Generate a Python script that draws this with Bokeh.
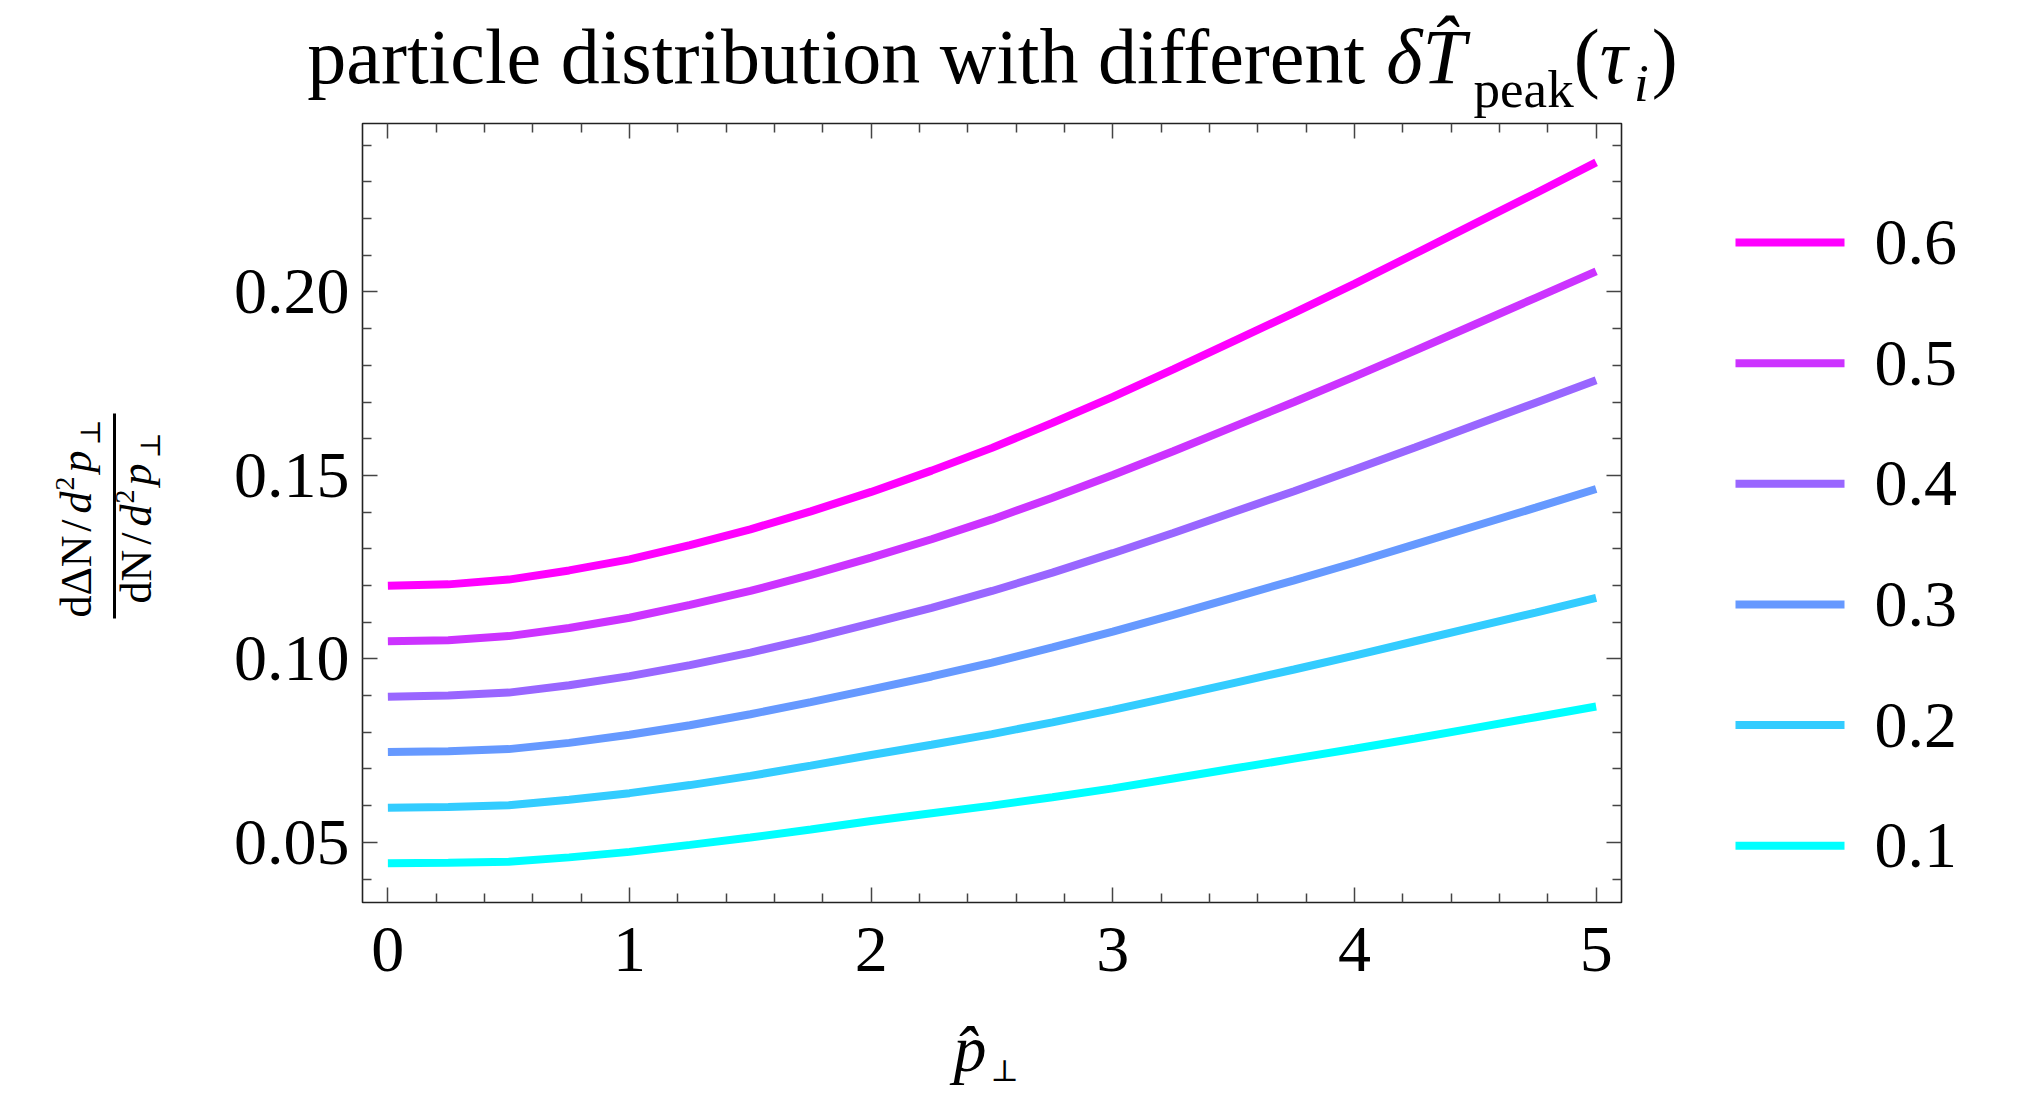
import math
from bokeh.plotting import figure
from bokeh.layouts import column, row
from bokeh.models import Range1d, FixedTicker, LinearAxis
from bokeh.core.properties import value
from bokeh.embed import file_html
from bokeh.resources import INLINE

# ---------------- data ----------------
p_hat = [0.0, 0.25, 0.5, 0.75, 1.0, 1.25, 1.5, 1.75, 2.0, 2.25, 2.5,
         2.75, 3.0, 3.25, 3.5, 3.75, 4.0, 4.25, 4.5, 4.75, 5.0]

series_labels = ["0.6", "0.5", "0.4", "0.3", "0.2", "0.1"]
y_06 = [0.1199, 0.1203, 0.1216, 0.1241, 0.1271, 0.1310, 0.1353, 0.1402, 0.1455, 0.1513, 0.1575,
        0.1643, 0.1714, 0.1789, 0.1866, 0.1943, 0.2022, 0.2104, 0.2187, 0.2269, 0.2353]
y_05 = [0.1048, 0.1051, 0.1062, 0.1084, 0.1112, 0.1147, 0.1185, 0.1229, 0.1276, 0.1326, 0.1380,
        0.1439, 0.1501, 0.1566, 0.1633, 0.1700, 0.1769, 0.1840, 0.1912, 0.1984, 0.2056]
y_04 = [0.0897, 0.0900, 0.0908, 0.0928, 0.0953, 0.0983, 0.1017, 0.1055, 0.1097, 0.1139, 0.1185,
        0.1235, 0.1288, 0.1343, 0.1400, 0.1457, 0.1516, 0.1576, 0.1637, 0.1698, 0.1759]
y_03 = [0.0746, 0.0748, 0.0754, 0.0771, 0.0793, 0.0819, 0.0849, 0.0882, 0.0917, 0.0952, 0.0990,
        0.1031, 0.1074, 0.1120, 0.1167, 0.1214, 0.1262, 0.1312, 0.1362, 0.1412, 0.1463]
y_02 = [0.0594, 0.0596, 0.0601, 0.0616, 0.0634, 0.0656, 0.0681, 0.0709, 0.0738, 0.0766, 0.0795,
        0.0827, 0.0861, 0.0897, 0.0934, 0.0971, 0.1009, 0.1048, 0.1087, 0.1126, 0.1166]
y_01 = [0.0443, 0.0444, 0.0447, 0.0459, 0.0474, 0.0493, 0.0513, 0.0535, 0.0558, 0.0579, 0.0600,
        0.0623, 0.0647, 0.0674, 0.0701, 0.0728, 0.0755, 0.0783, 0.0812, 0.0841, 0.0870]
series_values = [y_06, y_05, y_04, y_03, y_02, y_01]
series_colors = ["#FF00FF", "#CC33FF", "#9966FF", "#6699FF", "#33CCFF", "#00FFFF"]

x_ticks = [0, 1, 2, 3, 4, 5]
x_tick_labels = ["0", "1", "2", "3", "4", "5"]
x_minor = [0.2, 0.4, 0.6, 0.8, 1.2, 1.4, 1.6, 1.8, 2.2, 2.4, 2.6, 2.8,
           3.2, 3.4, 3.6, 3.8, 4.2, 4.4, 4.6, 4.8]
y_ticks = [0.05, 0.10, 0.15, 0.20]
y_tick_labels = ["0.05", "0.10", "0.15", "0.20"]
y_minor = [0.04, 0.06, 0.07, 0.08, 0.09, 0.11, 0.12, 0.13, 0.14,
           0.16, 0.17, 0.18, 0.19, 0.21, 0.22, 0.23, 0.24]

# ---------------- layout (canvas pixel coordinates) ----------------
W, H = 2007, 1087
TOP_H = 120             # title strip
MID_H = 890             # plot row
BOT_H = H - TOP_H - MID_H
LEFT_W = 208            # y-label strip
MAIN_W = 1432           # main figure
LEG_W = W - LEFT_W - MAIN_W
B_TOP, B_BOT = 3, 108   # vertical borders of every figure in the plot row
FR_TOP = TOP_H + B_TOP
FR_BOT = TOP_H + MID_H - B_BOT
SERIF = "Liberation Serif"
INK = "#222222"
TICK = "#444444"


def blank(width, height, x0, y_top, y_bot, bt=0, bb=0):
    f = figure(width=width, height=height, x_range=Range1d(x0, x0 + width),
               y_range=Range1d(y_bot, y_top), output_backend="svg",
               toolbar_location=None, min_border_left=0, min_border_right=0,
               min_border_top=bt, min_border_bottom=bb)
    f.axis.visible = False
    f.grid.visible = False
    f.outline_line_color = None
    f.background_fill_color = "white"
    f.border_fill_color = "white"
    return f


# ---------------- main figure ----------------
p = figure(width=MAIN_W, height=MID_H, x_range=Range1d(-0.105, 5.105),
           y_range=Range1d(0.0336, 0.2459), output_backend="svg",
           toolbar_location=None, min_border_left=154, min_border_right=19,
           min_border_top=B_TOP, min_border_bottom=B_BOT)
p.grid.visible = False
p.outline_line_color = INK
p.outline_line_width = 1.6
p.background_fill_color = "white"
p.border_fill_color = "white"


def style_axis(ax, show_labels, standoff):
    ax.axis_line_color = None
    ax.major_tick_in = 15
    ax.major_tick_out = 0
    ax.minor_tick_in = 9
    ax.minor_tick_out = 0
    ax.major_tick_line_color = TICK
    ax.minor_tick_line_color = TICK
    ax.major_tick_line_width = 1.5
    ax.minor_tick_line_width = 1.5
    ax.major_label_text_font = SERIF
    ax.major_label_text_color = "black"
    ax.major_label_standoff = standoff
    ax.major_label_text_font_size = "66px" if show_labels else "0px"


p.xaxis.ticker = FixedTicker(ticks=x_ticks, minor_ticks=x_minor)
p.yaxis.ticker = FixedTicker(ticks=y_ticks, minor_ticks=y_minor)
p.xaxis.major_label_overrides = {t: s for t, s in zip(x_ticks, x_tick_labels)}
p.yaxis.major_label_overrides = {t: s for t, s in zip(y_ticks, y_tick_labels)}
style_axis(p.xaxis[0], True, 25)
style_axis(p.yaxis[0], True, 13)

top_ax = LinearAxis(ticker=FixedTicker(ticks=x_ticks, minor_ticks=x_minor),
                    major_label_overrides={t: "" for t in x_ticks})
right_ax = LinearAxis(ticker=FixedTicker(ticks=y_ticks, minor_ticks=y_minor),
                      major_label_overrides={t: "" for t in y_ticks})
style_axis(top_ax, False, 0)
style_axis(right_ax, False, 0)
p.add_layout(top_ax, "above")
p.add_layout(right_ax, "right")

for ys, col in zip(series_values, series_colors):
    p.line(p_hat, ys, line_color=col, line_width=8)

# ---------------- typesetting helpers ----------------
REG = {' ': 0.25, 'a': 0.444, 'b': 0.5, 'c': 0.444, 'd': 0.5, 'e': 0.444, 'f': 0.333,
       'h': 0.5, 'i': 0.278, 'k': 0.5, 'l': 0.278, 'n': 0.5, 'o': 0.5, 'p': 0.5,
       'r': 0.333, 's': 0.389, 't': 0.278, 'u': 0.5, 'w': 0.722, '(': 0.333,
       ')': 0.333, '/': 0.278, 'N': 0.722, 'Δ': 0.612, '2': 0.5, '⊥': 0.838,
       '\u0302': 0.0}
ITA = {'δ': 0.5, 'T': 0.556, 'τ': 0.44, 'i': 0.278, 'd': 0.5, 'p': 0.5, '\u0302': 0.0}
MID = 0.3375   # em distance from the alphabetic baseline to the text middle


def tw(s, size, italic):
    tab = ITA if italic else REG
    return sum(tab.get(ch, 0.5) for ch in s) * size


def put(fig, text, x, y, size, italic=False, angle=0.0, align="left", font=SERIF):
    """(x, y) is the alphabetic baseline point; rendered with a middle baseline."""
    if angle == 0.0:
        y = y - MID * size
    else:
        x = x - MID * size
    fig.text(x=[x], y=[y], text=[text], text_font=value(font),
             text_font_size=f"{size}px",
             text_font_style="italic" if italic else "normal",
             text_align=align, text_baseline="middle", angle=angle,
             text_color="black")


# ---------------- title strip ----------------
tfig = blank(W, TOP_H, 0, 0, TOP_H)
F, S = 78, 53
base = 82
pieces = [("particle distribution with different", F, False, 0, 0),
          ("δT\u0302", F, True, 0, 0.25 * F),
          ("peak", S, False, 24, 5),
          ("(", F, False, 0, 0),
          ("τ", F, True, 0, 0),
          ("i", S, True, 18, 0),
          (")", F, False, 0, 3)]
total = sum(g + tw(t, s, it) for t, s, it, dy, g in pieces)
cx = 992 - total / 2
for t, s, it, dy, g in pieces:
    cx += g
    put(tfig, t, cx, base + dy, s, italic=it)
    cx += tw(t, s, it)

# ---------------- y-label strip ----------------
yfig = blank(LEFT_W, MID_H, 0, FR_TOP, FR_BOT, B_TOP, B_BOT)
FY, SY = 44, 28
up = math.pi / 2


def rot_line(parts, bx, by):
    y = by
    for t, s, it, shift, g in parts:
        y -= g
        font = "DejaVu Serif" if t == "⊥" else SERIF
        put(yfig, t, bx + shift, y, s, italic=it, angle=up, font=font)
        y -= tw(t, s, it)


num = [("dΔN", FY, False, 0, 0), ("/", FY, False, 0, 5), ("d", FY, True, 0, 6),
       ("2", SY, False, -17, 1), ("p", FY, True, 0, 4), ("⊥", SY, False, 8, 5)]
den = [("dN", FY, False, 0, 0), ("/", FY, False, 0, 5), ("d", FY, True, 0, 6),
       ("2", SY, False, -17, 1), ("p", FY, True, 0, 4), ("⊥", SY, False, 8, 5)]
rot_line(num, 91, 617)
rot_line(den, 151, 603)
yfig.line(x=[114, 114], y=[413, 618], line_color="black", line_width=3)

# ---------------- legend strip ----------------
lfig = blank(LEG_W, MID_H, LEFT_W + MAIN_W, FR_TOP, FR_BOT, B_TOP, B_BOT)
leg_y0, leg_dy = 242, 120.65
for i, (lab_txt, col) in enumerate(zip(series_labels, series_colors)):
    yy = leg_y0 + i * leg_dy
    lfig.line(x=[1735, 1844], y=[yy, yy], line_color=col, line_width=8)
    lfig.text(x=[1874], y=[yy], text=[lab_txt], text_font=value(SERIF),
              text_font_size="66px", text_align="left", text_baseline="middle",
              text_color="black")

# ---------------- x-label strip ----------------
bfig = blank(W, BOT_H, 0, TOP_H + MID_H, H)
put(bfig, "p\u0302", 953, 1070, 66, italic=True)
put(bfig, "⊥", 990, 1080, 30, font="DejaVu Serif")

layout = column(tfig, row(yfig, p, lfig), bfig)
open("out.html", "w").write(file_html(layout, INLINE))
